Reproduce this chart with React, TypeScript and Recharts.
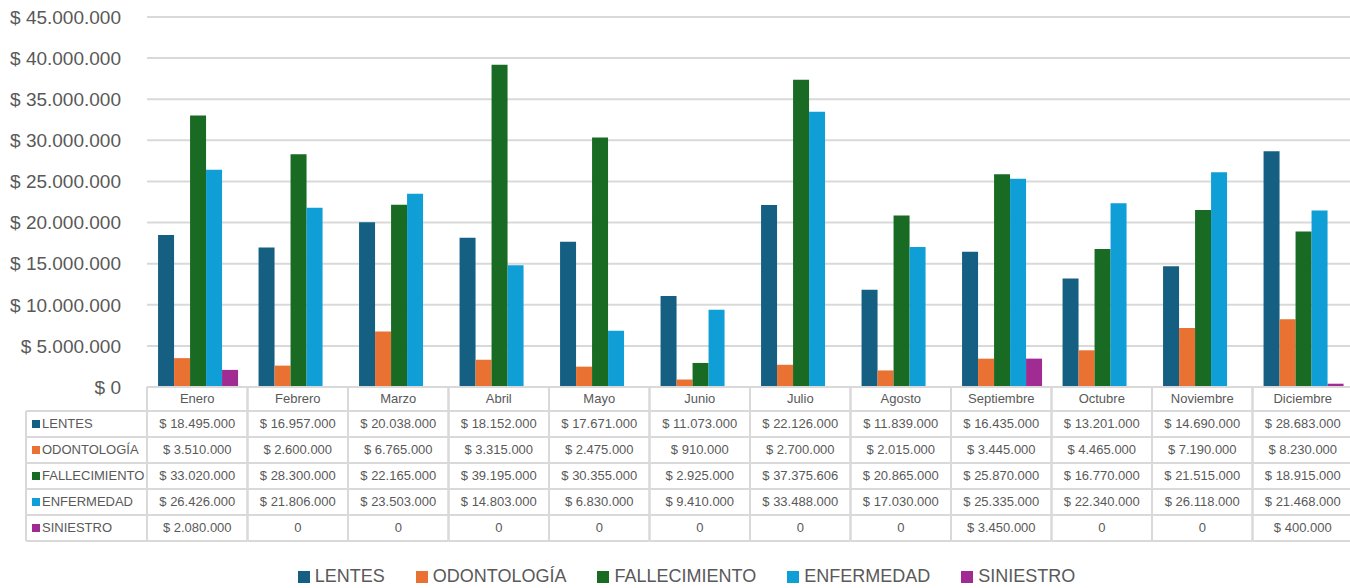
import React from "react";
import { BarChart, Bar, XAxis, YAxis, CartesianGrid, Legend } from "recharts";

const months = ["Enero", "Febrero", "Marzo", "Abril", "Mayo", "Junio", "Julio", "Agosto", "Septiembre", "Octubre", "Noviembre", "Diciembre"];
const lentes = [18495000, 16957000, 20038000, 18152000, 17671000, 11073000, 22126000, 11839000, 16435000, 13201000, 14690000, 28683000];
const odontologia = [3510000, 2600000, 6765000, 3315000, 2475000, 910000, 2700000, 2015000, 3445000, 4465000, 7190000, 8230000];
const fallecimiento = [33020000, 28300000, 22165000, 39195000, 30355000, 2925000, 37375606, 20865000, 25870000, 16770000, 21515000, 18915000];
const enfermedad = [26426000, 21806000, 23503000, 14803000, 6830000, 9410000, 33488000, 17030000, 25335000, 22340000, 26118000, 21468000];
const siniestro = [2080000, 0, 0, 0, 0, 0, 0, 0, 3450000, 0, 0, 400000];
const yTicks = [0, 5000000, 10000000, 15000000, 20000000, 25000000, 30000000, 35000000, 40000000, 45000000];

const seriesNames = ["LENTES", "ODONTOLOGÍA", "FALLECIMIENTO", "ENFERMEDAD", "SINIESTRO"];
const seriesKeys = ["lentes", "odontologia", "fallecimiento", "enfermedad", "siniestro"];
const seriesValues = [lentes, odontologia, fallecimiento, enfermedad, siniestro];
const colors = ["#156082", "#E97132", "#196B24", "#0F9ED5", "#A02B93"];

const data = months.map((m, i) => {
  const row: any = { month: m };
  seriesKeys.forEach((k, s) => (row[k] = seriesValues[s][i]));
  return row;
});

const W = 1350;
const CW = 1353;
const H = 588;
const M_LEFT = 0;
const Y_W = 147;
const M_RIGHT = 0;
const BW = (CW - M_LEFT - Y_W - M_RIGHT) / months.length;
const HEADER_H = 24;
const ROW_H = 26;
const LABEL_W = 121;
const GRID = "#d9d9d9";
const TXT = "#595959";
const FONT = "'Liberation Sans', Arial, sans-serif";

const fmt = (n: number) => {
  const s = Math.round(n).toString().replace(/\B(?=(\d{3})+(?!\d))/g, ".");
  return "$ " + s;
};
const cellFmt = (n: number) => (n === 0 ? "0" : fmt(n));

const TableTick = (props: any) => {
  const { x, y, payload } = props;
  const idx = payload.index;
  const left = x - BW / 2;
  const right = x + BW / 2;
  const top = y;
  const parts: any[] = [];
  parts.push(
    <text key="h" x={x} y={top + HEADER_H / 2 + 1} textAnchor="middle" dominantBaseline="middle" fontSize={13} fill={TXT} fontFamily={FONT}>
      {payload.value}
    </text>
  );
  seriesValues.forEach((vals, s) => {
    const cy = top + HEADER_H + ROW_H * s + ROW_H / 2 + 1;
    parts.push(
      <text key={"v" + s} x={x} y={cy} textAnchor="middle" dominantBaseline="middle" fontSize={13} fill={TXT} fontFamily={FONT}>
        {cellFmt(vals[idx])}
      </text>
    );
  });
  const bottom = top + HEADER_H + ROW_H * seriesValues.length;
  parts.push(<line key="vl" x1={left} y1={top} x2={left} y2={bottom} stroke={GRID} strokeWidth={2} />);
  parts.push(<line key="vr" x1={right} y1={top} x2={right} y2={bottom} stroke={GRID} strokeWidth={2} />);
  for (let r = 0; r <= seriesValues.length; r++) {
    const ly = top + HEADER_H + ROW_H * r;
    parts.push(<line key={"h" + r} x1={left} y1={ly} x2={right} y2={ly} stroke={GRID} strokeWidth={2} />);
  }
  if (idx === 0) {
    const l0 = left - LABEL_W;
    parts.push(<line key="lv" x1={l0} y1={top + HEADER_H} x2={l0} y2={bottom} stroke={GRID} strokeWidth={2} />);
    for (let r = 0; r <= seriesValues.length; r++) {
      const ly = top + HEADER_H + ROW_H * r;
      parts.push(<line key={"lh" + r} x1={l0} y1={ly} x2={left} y2={ly} stroke={GRID} strokeWidth={2} />);
    }
    seriesNames.forEach((name, s) => {
      const cy = top + HEADER_H + ROW_H * s + ROW_H / 2;
      parts.push(<rect key={"ls" + s} x={l0 + 6} y={cy - 4} width={8} height={8} fill={colors[s]} />);
      parts.push(
        <text key={"lt" + s} x={l0 + 16} y={cy + 1} dominantBaseline="middle" fontSize={13} fill={TXT} fontFamily={FONT}>
          {name}
        </text>
      );
    });
  }
  return <g>{parts}</g>;
};

const LegendContent = () => (
  <div style={{ display: "flex", justifyContent: "center", gap: 31, paddingTop: 19, paddingLeft: 20, fontFamily: FONT, fontSize: 18, color: TXT }}>
    {seriesNames.map((n, i) => (
      <div key={n} style={{ display: "flex", alignItems: "center" }}>
        <span style={{ display: "inline-block", width: 12, height: 12, background: colors[i], marginRight: 5 }} />
        <span>{n}</span>
      </div>
    ))}
  </div>
);

export default function App() {
  return (
    <div style={{ width: W, height: H, background: "#fff", overflow: "hidden" }}>
      <style>{`body{margin:0;overflow:hidden;}`}</style>
      <BarChart width={CW} height={H} data={data} margin={{ top: 17, right: M_RIGHT, left: M_LEFT, bottom: 0 }} barCategoryGap="11%" barGap={0}>
        <CartesianGrid vertical={false} stroke={GRID} strokeWidth={2} />
        <XAxis dataKey="month" height={160} interval={0} tickLine={false} tickSize={0} tickMargin={0} axisLine={{ stroke: GRID, strokeWidth: 2 }} tick={<TableTick />} />
        <YAxis width={Y_W} domain={[0, 45000000]} ticks={yTicks} tickFormatter={fmt} axisLine={false} tickLine={false} tickMargin={20} tick={{ fontSize: 19, fill: TXT, fontFamily: FONT }} />
        <Legend verticalAlign="bottom" height={41} content={<LegendContent />} />
        {seriesKeys.map((k, i) => (
          <Bar key={k} dataKey={k} name={seriesNames[i]} fill={colors[i]} isAnimationActive={false} />
        ))}
      </BarChart>
    </div>
  );
}
